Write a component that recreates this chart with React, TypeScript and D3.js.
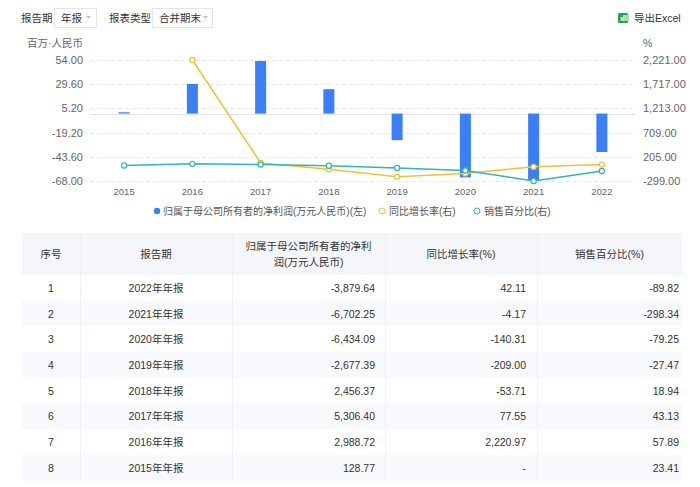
import * as d3 from "d3";
import { useEffect, useRef } from "react";

// ---- data ----
const years = ["2015", "2016", "2017", "2018", "2019", "2020", "2021", "2022"];
// 归属于母公司所有者的净利润 (万元人民币)
const netProfit = [128.77, 2988.72, 5306.4, 2456.37, -2677.39, -6434.09, -6702.25, -3879.64];
// 同比增长率 (%)
const yoyGrowth: (number | null)[] = [null, 2220.97, 77.55, -53.71, -209.0, -140.31, -4.17, 42.11];
// 销售百分比 (%)
const salesPct = [23.41, 57.89, 43.13, 18.94, -27.47, -79.25, -298.34, -89.82];

const leftTicks = [54.0, 29.6, 5.2, -19.2, -43.6, -68.0];
const rightTicks = [2221, 1717, 1213, 709, 205, -299];

const tableHeaders = ["序号", "报告期", "归属于母公司所有者的净利|润(万元人民币)", "同比增长率(%)", "销售百分比(%)"];

const FONT = "'Liberation Sans', 'Noto Sans CJK SC', sans-serif";
const BLUE = "#3a7ff5";
const YELLOW = "#f0c232";
const TEAL = "#33b5b0";

const locale = d3.formatLocale({ decimal: ".", thousands: ",", grouping: [3], currency: ["", ""], minus: "-" });
const fmt = locale.format(",.2f");

export default function App() {
  const containerRef = useRef<HTMLDivElement>(null);

  useEffect(() => {
    if (!containerRef.current) return;
    const container = containerRef.current;
    container.innerHTML = "";

    const width = 700;
    const height = 487;

    const svg = d3
      .select(container)
      .append("svg")
      .attr("width", width)
      .attr("height", height)
      .style("position", "absolute")
      .style("left", "0px")
      .style("top", "0px")
      .style("font-family", FONT)
      .style("background", "#fff");

    // -----------------------------
    // TOP CONTROLS
    // -----------------------------
    const top = svg.append("g");
    const label = (x: number, t: string, color = "#333") =>
      top.append("text").attr("x", x).attr("y", 21.5).attr("font-size", 10.5).attr("fill", color).text(t);

    label(21, "报告期");
    top.append("rect").attr("x", 54.5).attr("y", 8.5).attr("width", 42).attr("height", 19)
      .attr("fill", "#fff").attr("stroke", "#e2e4e8");
    label(61, "年报");
    top.append("path").attr("d", "M86,16 L91,16 L88.5,19 Z").attr("fill", "#c0c4cc");

    label(109, "报表类型");
    top.append("rect").attr("x", 152.5).attr("y", 8.5).attr("width", 60).attr("height", 19)
      .attr("fill", "#fff").attr("stroke", "#e2e4e8");
    label(159, "合并期末");
    top.append("path").attr("d", "M203,16 L208,16 L205.5,19 Z").attr("fill", "#c0c4cc");

    // excel icon
    top.append("rect").attr("x", 618).attr("y", 13).attr("width", 10).attr("height", 10).attr("rx", 1.5).attr("fill", "#2e9e4f");
    top.append("rect").attr("x", 623).attr("y", 15).attr("width", 6).attr("height", 6).attr("fill", "#a8dbb3");
    top.append("text").attr("x", 620).attr("y", 21).attr("font-size", 7).attr("font-weight", "bold").attr("fill", "#fff").text("x");
    label(634, "导出Excel");

    // -----------------------------
    // CHART
    // -----------------------------
    const x = d3.scaleBand().domain(years).range([90, 636]).padding(0);
    const yL = d3.scaleLinear().domain([-68, 54]).range([181, 60]);
    const yR = d3.scaleLinear().domain([-299, 2221]).range([181, 60]);
    const cx = (i: number) => x(years[i])! + x.bandwidth() / 2;

    const chart = svg.append("g");

    chart.append("text").attr("x", 83).attr("y", 47).attr("text-anchor", "end")
      .attr("font-size", 10.5).attr("fill", "#666").text("百万·人民币");
    chart.append("text").attr("x", 643).attr("y", 47)
      .attr("font-size", 10.5).attr("fill", "#666").text("%");

    // grid
    chart.selectAll("line.grid").data(leftTicks).enter().append("line")
      .attr("x1", 90).attr("x2", 636)
      .attr("y1", (d) => Math.round(yL(d)) + 0.5).attr("y2", (d) => Math.round(yL(d)) + 0.5)
      .attr("stroke", "#e6e8ec").attr("stroke-dasharray", "4,3");

    chart.selectAll("text.lt").data(leftTicks).enter().append("text")
      .attr("x", 83).attr("y", (d) => yL(d) + 4).attr("text-anchor", "end")
      .attr("font-size", 11).attr("fill", "#666").text((d) => locale.format(".2f")(d));

    chart.selectAll("text.rt").data(rightTicks).enter().append("text")
      .attr("x", 643).attr("y", (d) => yR(d) + 4)
      .attr("font-size", 11).attr("fill", "#666").text((d) => fmt(d));

    // zero line
    chart.append("line").attr("x1", 90).attr("x2", 636)
      .attr("y1", Math.round(yL(0)) + 0.5).attr("y2", Math.round(yL(0)) + 0.5)
      .attr("stroke", "#dde1e8");

    // x labels
    chart.selectAll("text.xl").data(years).enter().append("text")
      .attr("x", (_, i) => cx(i)).attr("y", 195).attr("text-anchor", "middle")
      .attr("font-size", 9.5).attr("fill", "#666").text((d) => d);

    // bars (百万 = 万元 / 100)
    const barW = 11;
    chart.selectAll("rect.bar").data(netProfit).enter().append("rect")
      .attr("x", (_, i) => cx(i) - barW / 2)
      .attr("y", (d) => Math.min(yL(d / 100), yL(0)))
      .attr("width", barW)
      .attr("height", (d) => Math.abs(yL(d / 100) - yL(0)))
      .attr("fill", BLUE);

    // lines
    const drawLine = (vals: (number | null)[], color: string) => {
      const pts = vals.map((v, i) => ({ v, i }));
      const line = d3.line<{ v: number | null; i: number }>()
        .defined((d) => d.v !== null)
        .x((d) => cx(d.i))
        .y((d) => yR(d.v as number));
      chart.append("path").datum(pts).attr("d", line).attr("fill", "none")
        .attr("stroke", color).attr("stroke-width", 1.5);
      chart.selectAll(null).data(pts.filter((d) => d.v !== null)).enter().append("circle")
        .attr("cx", (d) => cx(d.i)).attr("cy", (d) => yR(d.v as number)).attr("r", 2.6)
        .attr("fill", "#fff").attr("stroke", color).attr("stroke-width", 1.2);
    };
    drawLine(yoyGrowth, YELLOW);
    drawLine(salesPct, TEAL);

    // legend
    const lg = svg.append("g").attr("font-size", 10).attr("fill", "#555");
    lg.append("circle").attr("cx", 157).attr("cy", 211).attr("r", 3.2).attr("fill", BLUE);
    lg.append("text").attr("x", 163).attr("y", 215).text("归属于母公司所有者的净利润(万元人民币)(左)");
    lg.append("circle").attr("cx", 382).attr("cy", 211).attr("r", 3).attr("fill", "#fff").attr("stroke", YELLOW);
    lg.append("text").attr("x", 389).attr("y", 215).text("同比增长率(右)");
    lg.append("circle").attr("cx", 477).attr("cy", 211).attr("r", 3).attr("fill", "#fff").attr("stroke", TEAL);
    lg.append("text").attr("x", 484).attr("y", 215).text("销售百分比(右)");

    // -----------------------------
    // TABLE
    // -----------------------------
    const colX = [22, 80, 232, 385, 537, 682];
    const headTop = 233;
    const headH = 42;
    const rowH = 25.7;

    const rows = years.map((y, i) => ({
      label: `${y}年年报`,
      profit: fmt(netProfit[i]),
      yoy: yoyGrowth[i] === null ? "-" : fmt(yoyGrowth[i] as number),
      sales: fmt(salesPct[i]),
    })).reverse();

    const tb = svg.append("g").attr("font-size", 10.5).attr("fill", "#333");

    tb.append("rect").attr("x", colX[0]).attr("y", headTop).attr("width", colX[5] - colX[0])
      .attr("height", headH).attr("fill", "#f4f6fa");

    rows.forEach((_, r) => {
      tb.append("rect").attr("x", colX[0]).attr("y", headTop + headH + r * rowH)
        .attr("width", colX[5] - colX[0]).attr("height", rowH)
        .attr("fill", r % 2 === 0 ? "#ffffff" : "#f8f9fc");
    });

    // vertical dividers
    colX.slice(1, 5).forEach((cxv) => {
      tb.append("line").attr("x1", cxv + 0.5).attr("x2", cxv + 0.5)
        .attr("y1", headTop).attr("y2", headTop + headH + rows.length * rowH)
        .attr("stroke", "#eef0f5");
    });

    // headers
    tableHeaders.forEach((h, c) => {
      const mid = (colX[c] + colX[c + 1]) / 2;
      const parts = h.split("|");
      parts.forEach((p, k) => {
        const yy = headTop + headH / 2 + 4 + (k - (parts.length - 1) / 2) * 16;
        tb.append("text").attr("x", mid).attr("y", yy).attr("text-anchor", "middle").text(p);
      });
    });

    rows.forEach((row, r) => {
      const yy = headTop + headH + r * rowH + rowH / 2 + 4;
      tb.append("text").attr("x", (colX[0] + colX[1]) / 2).attr("y", yy).attr("text-anchor", "middle").text(r + 1);
      tb.append("text").attr("x", (colX[1] + colX[2]) / 2).attr("y", yy).attr("text-anchor", "middle").text(row.label);
      tb.append("text").attr("x", colX[3] - 10).attr("y", yy).attr("text-anchor", "end").text(row.profit);
      tb.append("text").attr("x", colX[4] - 11).attr("y", yy).attr("text-anchor", "end").text(row.yoy);
      tb.append("text").attr("x", colX[5] - 3).attr("y", yy).attr("text-anchor", "end").text(row.sales);
    });
  }, []);

  return <div ref={containerRef} style={{ width: 700, height: 487 }} />;
}
